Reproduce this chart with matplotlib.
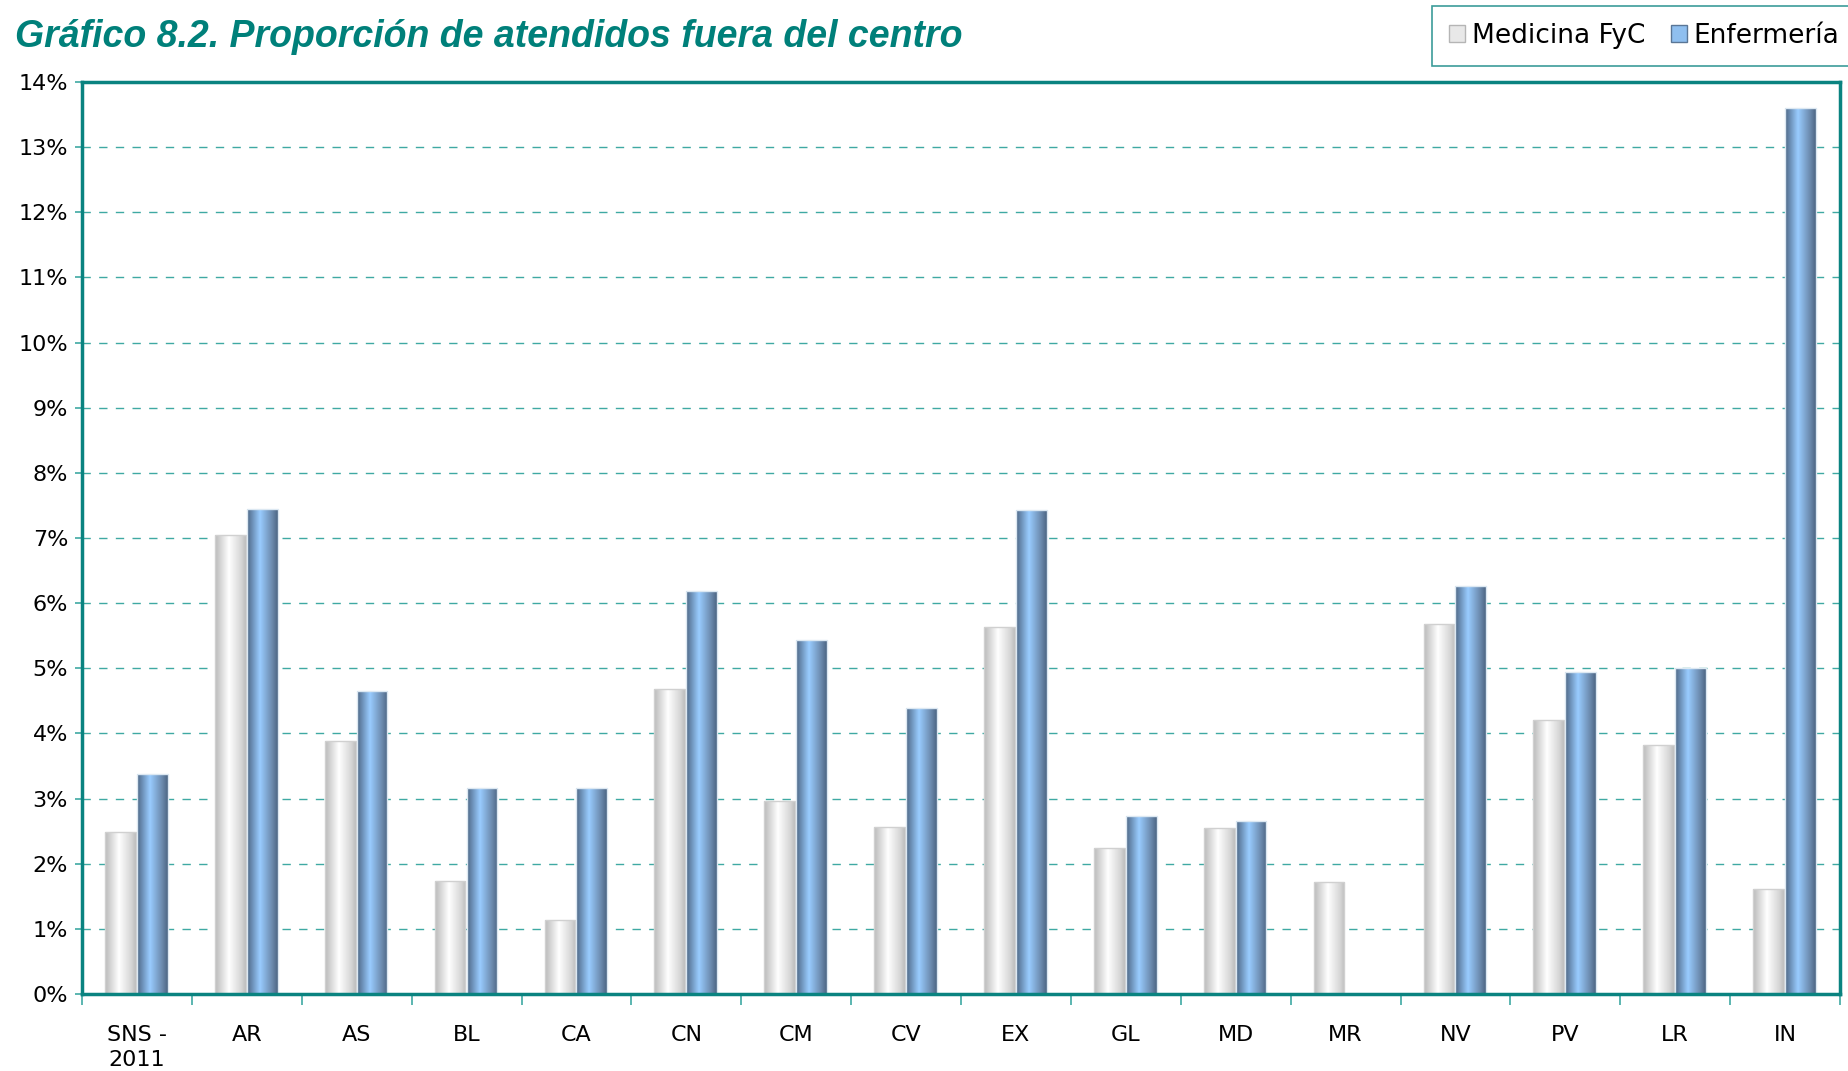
import numpy as np
import matplotlib
matplotlib.use("Agg")
from matplotlib import pyplot as plt
from matplotlib.colors import LinearSegmentedColormap
from matplotlib.patches import Patch

# Data (percent)
regions = ["SNS -\n2011", "AR", "AS", "BL", "CA", "CN", "CM", "CV", "EX",
           "GL", "MD", "MR", "NV", "PV", "LR", "IN"]
medicina = [2.48, 7.05, 3.89, 1.74, 1.14, 4.68, 2.97, 2.57, 5.64,
            2.24, 2.55, 1.72, 5.68, 4.20, 3.82, 1.61]
enfermeria = [3.38, 7.45, 4.65, 3.16, 3.16, 6.18, 5.44, 4.39, 7.43,
              2.73, 2.66, 0.0, 6.27, 4.95, 5.01, 13.60]

teal = "#0a8380"
grid_teal = "#3fa9a3"

gray_cmap = LinearSegmentedColormap.from_list(
  "gray_bar", [(0.0, "#b9b9b9"), (0.45, "#ffffff"), (0.85, "#d6d6d6"), (1.0, "#bcbcbc")])
blue_cmap = LinearSegmentedColormap.from_list(
  "blue_bar", [(0.0, "#4d6684"), (0.42, "#99ccff"), (0.8, "#6d8cb0"), (1.0, "#4c6583")])

fig = plt.figure(figsize=(18.48, 10.71), dpi=100)
ax = fig.add_axes([82/1848, 1 - 994/1071, (1840-82)/1848, (994-82)/1071])

x = np.arange(len(regions))
width = 0.28
grad = np.linspace(0, 1, 256).reshape(1, -1)

def gradient_bars(xpos, values, cmap, edge):
  bars = ax.bar(xpos, values, width, facecolor="none", edgecolor=edge,
                linewidth=1.0, zorder=4)
  for bar in bars:
    if bar.get_height() <= 0:
      continue
    x0 = bar.get_x()
    im = ax.imshow(grad, cmap=cmap, aspect="auto", zorder=3,
                   extent=[x0, x0 + bar.get_width(), 0, bar.get_height()])
    im.set_clip_path(bar)
  return bars

gradient_bars(x - 0.15, medicina, gray_cmap, "#d0d0d0")
gradient_bars(x + 0.14, enfermeria, blue_cmap, "#dce8f2")

ax.set_xlim(-0.5, len(regions) - 0.5)
ax.set_ylim(0, 14)

ax.set_yticks(np.arange(0, 15, 1))
ax.set_yticklabels([f"{v}%" for v in range(15)], fontsize=16)
ax.set_xticks(x)
ax.set_xticklabels(regions, fontsize=16, linespacing=1.35)
ax.set_xticks(np.arange(-0.5, len(regions), 1), minor=True)
ax.tick_params(axis="x", which="major", length=0, pad=22)
ax.tick_params(axis="x", which="minor", length=8, width=1.2, color=grid_teal,
               direction="out")
ax.tick_params(axis="y", length=5, width=1.2, color=grid_teal, pad=5)

for v in range(1, 14):
  ax.axhline(v, color=grid_teal, linestyle=(0, (6, 6)), linewidth=1.0, zorder=1)

for side in ["left", "top", "right", "bottom"]:
  ax.spines[side].set_color(teal)
  ax.spines[side].set_linewidth(2.5)
  ax.spines[side].set_zorder(5)

fig.text(15/1848, 1 - 37/1071, "Gráfico 8.2. Proporción de atendidos fuera del centro",
         fontsize=27, fontweight="bold", fontstyle="italic", color="#00807a",
         family=["Liberation Sans", "DejaVu Sans"],
         va="center", ha="left")

handles = [Patch(facecolor="#e8e8e8", edgecolor="#b5b5b5", label="Medicina FyC"),
           Patch(facecolor="#8fbfef", edgecolor="#5a7696", label="Enfermería")]
leg = fig.legend(handles=handles, loc="upper left",
                 bbox_to_anchor=(1432/1848, 1 - 6/1071), ncol=2, fontsize=19,
                 frameon=True, fancybox=False, handlelength=0.6, handleheight=0.6,
                 handletextpad=0.25, columnspacing=1.0, borderpad=0.65,
                 borderaxespad=0)
leg.get_frame().set_edgecolor(teal)
leg.get_frame().set_linewidth(1.2)

fig.savefig("out.png", dpi=100)
